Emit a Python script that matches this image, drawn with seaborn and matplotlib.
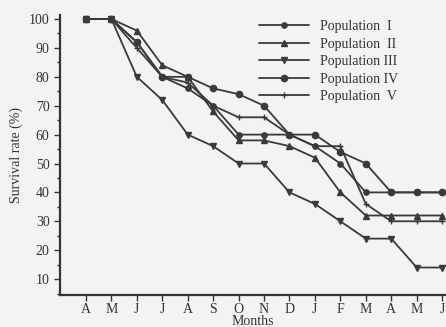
import matplotlib
matplotlib.use("Agg")
import matplotlib.pyplot as plt
from matplotlib.ticker import MultipleLocator
import seaborn as sns
import pandas as pd

months = ["A", "M", "J", "J", "A", "S", "O", "N", "D", "J", "F", "M", "A", "M", "J"]
pop1 = [100, 100, 92, 80, 76, 70, 60, 60, 60, 56, 50, 40, 40, 40, 40]
pop2 = [100, 100, 96, 84, 80, 68, 58, 58, 56, 52, 40, 32, 32, 32, 32]
pop3 = [100, 100, 80, 72, 60, 56, 50, 50, 40, 36, 30, 24, 24, 14, 14]
pop4 = [100, 100, 92, 80, 80, 76, 74, 70, 60, 60, 54, 50, 40, 40, 40]
pop5 = [100, 100, 90, 80, 78, 70, 66, 66, 60, 56, 56, 36, 30, 30, 30]
names = ["Population  I", "Population  II", "Population III", "Population IV", "Population  V"]

rows = []
for name, vals in zip(names, [pop1, pop2, pop3, pop4, pop5]):
    for i, v in enumerate(vals):
        rows.append({"idx": i, "rate": v, "pop": name})
df = pd.DataFrame(rows)

sns.set_style("ticks")
plt.rcParams["font.family"] = ["Liberation Serif", "DejaVu Serif"]

bg = "#f3f3f1"
fig = plt.figure(figsize=(4.46, 3.27), dpi=100, facecolor=bg)
ax = fig.add_axes([0.1345, 0.098, 0.866, 0.857])
ax.set_facecolor(bg)

col = "#3a3a3a"
markers = {names[0]: "o", names[1]: "^", names[2]: "v", names[3]: "o", names[4]: "+"}
sizes_m = {names[0]: 3.8, names[1]: 4.5, names[2]: 4.5, names[3]: 4.5, names[4]: 5}

for name in names:
    sub = df[df["pop"] == name]
    sns.lineplot(data=sub, x="idx", y="rate", ax=ax, color=col, marker=markers[name],
                 markersize=sizes_m[name], markeredgecolor=col, markerfacecolor=col,
                 markeredgewidth=1.0, linewidth=1.3, label=name)

ax.set_xlim(-1.02, 14.16)
ax.set_ylim(4.5, 101.5)
ax.set_xticks(range(len(months)))
ax.set_xticklabels(months)
ax.set_yticks(range(10, 101, 10))
ax.yaxis.set_minor_locator(MultipleLocator(5))
ax.tick_params(axis="both", labelsize=10, colors="#333333", length=4, width=1.0, direction="out")
ax.tick_params(axis="y", which="minor", length=2.5, width=1.0)
ax.tick_params(axis="x", pad=2)
ax.set_xlabel("Months", fontsize=10, color="#333333", labelpad=-1)
ax.set_ylabel("Survival rate (%)", fontsize=10, color="#333333", labelpad=4)
sns.despine(ax=ax, top=True, right=True)
for s in ["left", "bottom"]:
    ax.spines[s].set_linewidth(1.6)
    ax.spines[s].set_color("#333333")

leg = ax.legend(loc="upper left", bbox_to_anchor=(0.49, 1.015), frameon=False, fontsize=10,
                handlelength=3.6, labelspacing=0.32, handletextpad=0.8, borderpad=0.2)
for t in leg.get_texts():
    t.set_color("#333333")

fig.savefig("out.png", dpi=100, facecolor=bg)
